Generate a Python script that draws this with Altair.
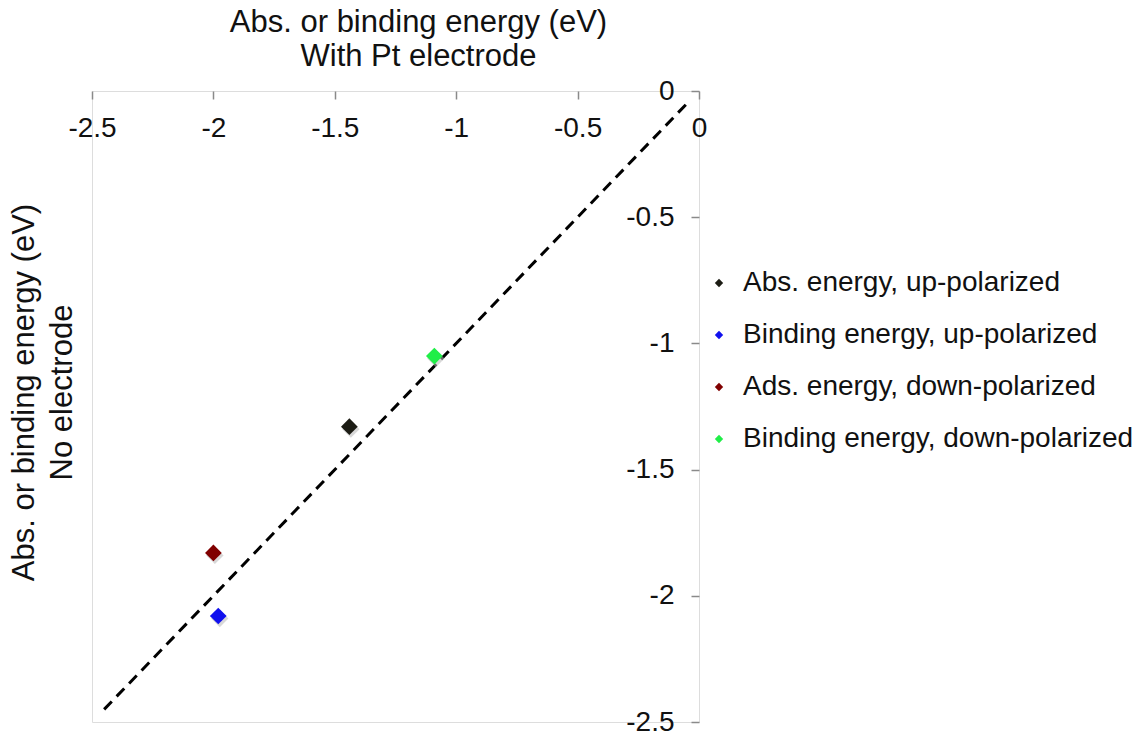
import altair as alt
import pandas as pd

# ---- data ----
series = [
    "Abs. energy, up-polarized",
    "Binding energy, up-polarized",
    "Ads. energy, down-polarized",
    "Binding energy, down-polarized",
]
x_with_pt = [-1.44, -1.98, -2.00, -1.09]
y_no_electrode = [-1.33, -2.08, -1.83, -1.05]
colors = ["#1c1c14", "#1010ee", "#800000", "#20ee48"]

diag_x = [-2.45, -0.04]
diag_y = [-2.45, -0.04]

x_ticks = [-2.5, -2, -1.5, -1, -0.5, 0]
y_ticks = [-2.5, -2, -1.5, -1, -0.5, 0]

pts = pd.DataFrame({"series": series, "x": x_with_pt, "y": y_no_electrode})
diag = pd.DataFrame({"x": diag_x, "y": diag_y})

W, H = 607, 631
FONT = "Liberation Sans"

xscale = alt.Scale(domain=[-2.5, 0], nice=False, zero=False)
yscale = alt.Scale(domain=[-2.5, 0], nice=False, zero=False)

xaxis = alt.Axis(
    orient="bottom", offset=-H, values=x_ticks, title=None, grid=False,
    domain=False, tickSize=8, tickColor="#8a8a8a", tickWidth=1.5,
    labelPadding=15, labelFontSize=28, labelFlush=False, labelOverlap=False,
    labelExpr="'' + datum.value", labelColor="#111111", labelFont=FONT,
)
yaxis = alt.Axis(
    orient="left", offset=-W, values=y_ticks, grid=False,
    domain=False, tickSize=8, tickColor="#8a8a8a", tickWidth=1.5,
    labelPadding=17, labelFontSize=28, labelFlush=False, labelOverlap=False,
    labelExpr="'' + datum.value", labelColor="#111111", labelFont=FONT,
    title=["Abs. or binding energy (eV)", "No electrode"],
    titleFontSize=31, titleFontWeight="normal", titleFont=FONT, titleColor="#111111",
    titleX=-675, titleY=301, titleAngle=-90, titleBaseline="middle",
    titleAlign="center", titleLineHeight=38,
)

line = alt.Chart(diag).mark_line(
    color="#000000", strokeWidth=3, strokeDash=[11, 7]
).encode(
    x=alt.X("x:Q", scale=xscale, axis=xaxis),
    y=alt.Y("y:Q", scale=yscale, axis=yaxis),
)

shadow = alt.Chart(pts).mark_point(
    filled=True, shape="diamond", size=300, color="#b8b8b8", opacity=0.55,
    xOffset=1.5, yOffset=2.5,
).encode(
    x=alt.X("x:Q", scale=xscale),
    y=alt.Y("y:Q", scale=yscale),
)

points = alt.Chart(pts).mark_point(
    filled=True, shape="diamond", size=280, opacity=1,
).encode(
    x=alt.X("x:Q", scale=xscale),
    y=alt.Y("y:Q", scale=yscale),
    color=alt.Color(
        "series:N",
        scale=alt.Scale(domain=series, range=colors),
        legend=alt.Legend(
            title=None, orient="none", legendX=613, legendY=178,
            symbolType="diamond", symbolSize=70, labelFontSize=28,
            labelFont=FONT, labelColor="#111111", rowPadding=24,
            labelOffset=10, padding=0, labelLimit=600, symbolStrokeWidth=0,
        ),
    ),
)

chart = alt.layer(line, shadow, points).properties(
    width=W,
    height=H,
    padding={"left": 92, "top": 91, "right": 449, "bottom": 16},
    autosize=alt.AutoSizeParams(type="none"),
    title=alt.TitleParams(
        text=["Abs. or binding energy (eV)", "With Pt electrode"],
        fontSize=31, font=FONT, fontWeight="normal", color="#111111",
        anchor="middle", dx=23, offset=4, lineHeight=34,
    ),
).configure_view(
    stroke="#8a8a8a", strokeWidth=1.5
).configure(background="white")

chart.save("out.html", embed_options={"renderer": "svg", "actions": False})
